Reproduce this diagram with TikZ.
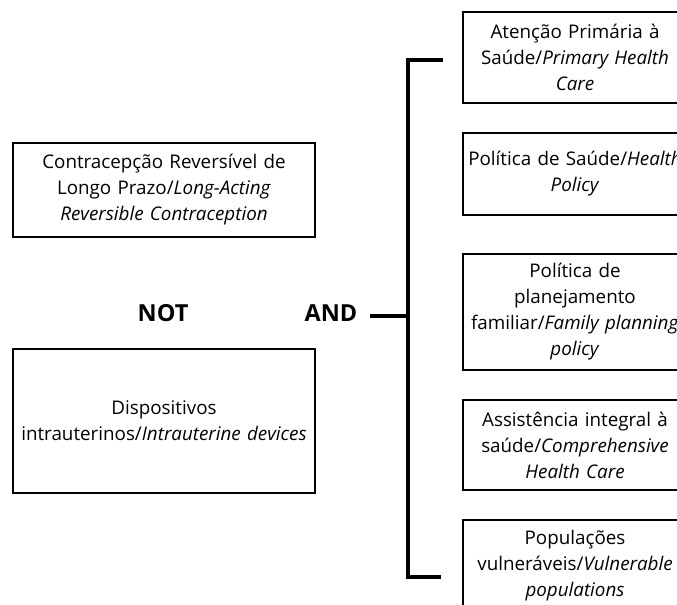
\documentclass[tikz,border=0pt]{standalone}
\usepackage{fontspec}
\setmainfont{Open Sans}
\begin{document}
\begin{tikzpicture}[x=0.75pt,y=-0.75pt,
  box/.style={draw=black,line width=0.9pt,align=center,inner sep=0pt,
    font=\fontsize{14.1}{19.5}\selectfont},
  kw/.style={font=\fontsize{17.6}{20}\selectfont\bfseries,inner sep=0pt},
  brk/.style={line width=2.3pt}]
\useasboundingbox (0,0) rectangle (677,605);
\clip (0,0) rectangle (677,605);
% left boxes
\node[box,minimum width=302pt*0.75,minimum height=94pt*0.75,text width=296*0.75pt] (larc) at (164,190)
  {Contracepção Reversível de\\Longo Prazo/\textit{Long-Acting}\\\textit{Reversible Contraception}};
\node[box,minimum width=302pt*0.75,minimum height=144pt*0.75,text width=296*0.75pt] (diu) at (164,421)
  {Dispositivos\\intrauterinos/\textit{Intrauterine devices}};
% keywords
\node[kw] (not) at (163,313) {NOT};
\node[kw] (and) at (331,313) {AND};
% right boxes
\node[box,minimum width=224pt*0.75,minimum height=91pt*0.75,text width=220*0.75pt] (b1) at (575,57.5)
  {Atenção Primária à\\Saúde/\textit{Primary Health}\\\textit{Care}};
\node[box,minimum width=224pt*0.75,minimum height=82pt*0.75,text width=220*0.75pt] (b2) at (575,174)
  {Política de Saúde/\textit{Health}\\\textit{Policy}};
\node[box,minimum width=224pt*0.75,minimum height=116pt*0.75,text width=220*0.75pt] (b3) at (575,312)
  {Política de\\planejamento\\familiar/\textit{Family planning}\\\textit{policy}};
\node[box,minimum width=224pt*0.75,minimum height=90pt*0.75,text width=220*0.75pt] (b4) at (575,445)
  {Assistência integral à\\saúde/\textit{Comprehensive}\\\textit{Health Care}};
\node[box,minimum width=224pt*0.75,minimum height=92pt*0.75,text width=220*0.75pt] (b5) at (575,566)
  {Populações\\vulneráveis/\textit{Vulnerable}\\\textit{populations}};
% bracket
\coordinate (jn) at (408,316);
\coordinate (bt) at (408,60);
\coordinate (bb) at (408,577);
\coordinate (tt) at (443,60);
\coordinate (te) at (441,577);
\draw[brk] ([xshift=9pt]and.east |- jn) -- (jn);
\draw[brk] (tt) -- (bt) -- (bb) -- (te);
\end{tikzpicture}
\end{document}
